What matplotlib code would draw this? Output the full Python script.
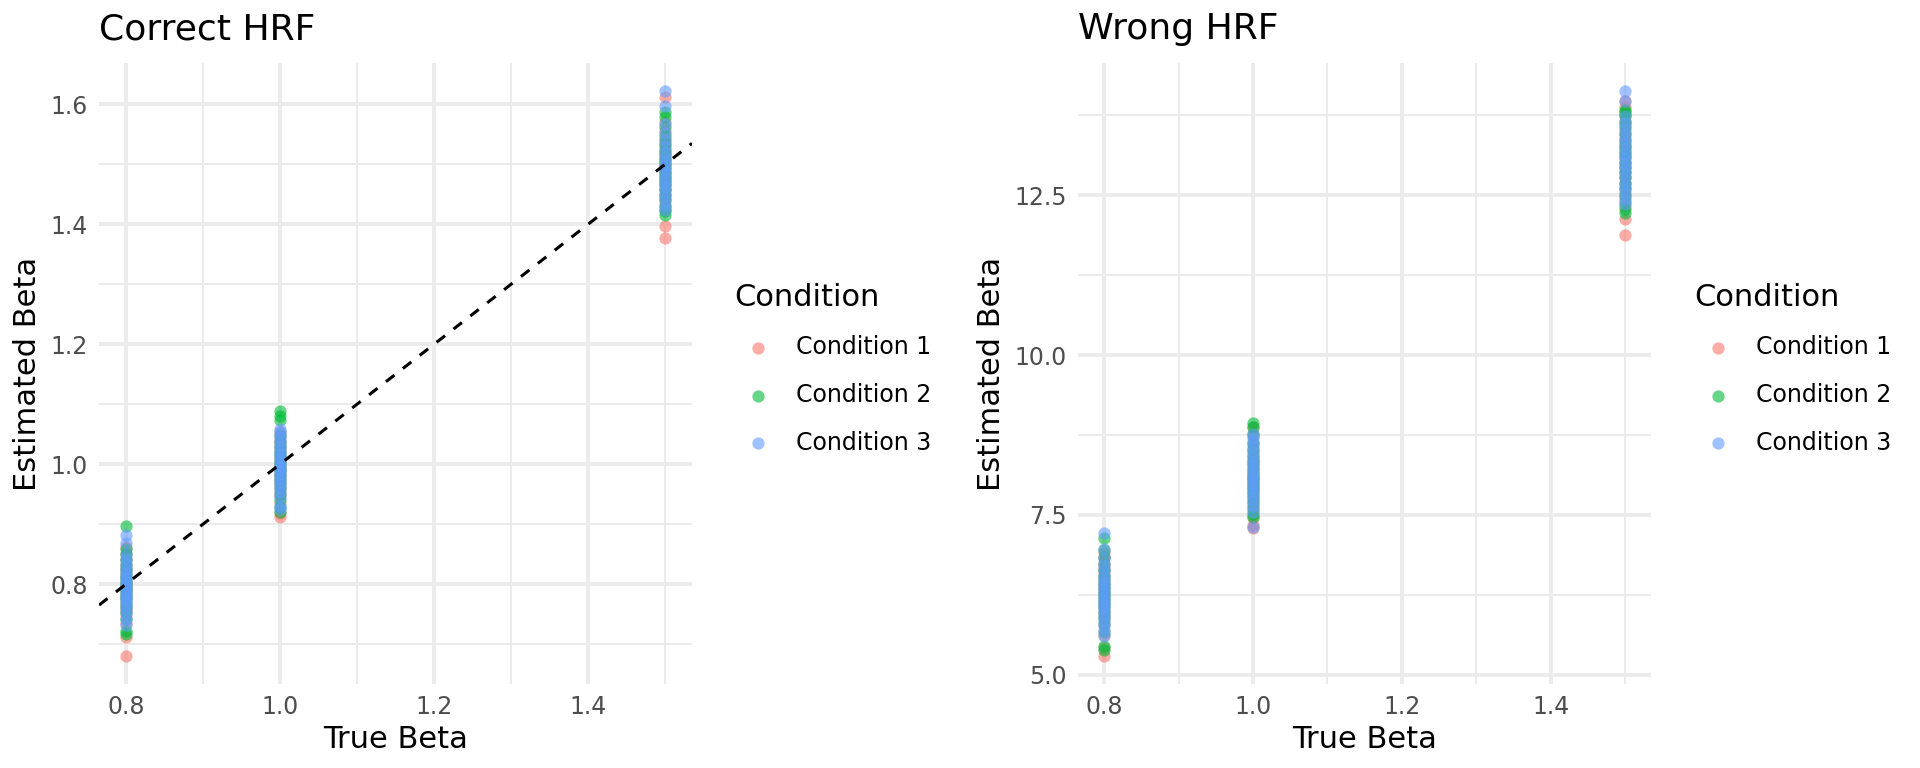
import matplotlib
matplotlib.use("Agg")
import matplotlib.pyplot as plt
from matplotlib.ticker import MultipleLocator, FormatStrFormatter

true_betas = [0.8, 1.0, 1.5]
conditions = ["Condition 1", "Condition 2", "Condition 3"]
colors = ["#F8766D", "#00BA38", "#619CFF"]

# correct HRF: estimated betas per condition, per true beta
correct_c1_08 = [0.680, 0.712, 0.735, 0.748, 0.756, 0.764, 0.771, 0.777, 0.783, 0.789,
                 0.794, 0.799, 0.805, 0.811, 0.818, 0.826, 0.834, 0.842, 0.851, 0.862]
correct_c2_08 = [0.716, 0.721, 0.742, 0.753, 0.762, 0.769, 0.776, 0.782, 0.788, 0.793,
                 0.798, 0.804, 0.810, 0.816, 0.823, 0.831, 0.840, 0.851, 0.858, 0.897]
correct_c3_08 = [0.731, 0.742, 0.752, 0.760, 0.767, 0.773, 0.779, 0.784, 0.790, 0.795,
                 0.800, 0.806, 0.812, 0.818, 0.825, 0.833, 0.842, 0.851, 0.868, 0.882]
correct_c1_10 = [0.912, 0.918, 0.935, 0.948, 0.957, 0.965, 0.972, 0.978, 0.984, 0.990,
                 0.996, 1.002, 1.008, 1.014, 1.020, 1.027, 1.034, 1.041, 1.047, 1.053]
correct_c2_10 = [0.920, 0.929, 0.941, 0.951, 0.960, 0.968, 0.975, 0.982, 0.988, 0.994,
                 1.000, 1.006, 1.013, 1.020, 1.028, 1.037, 1.048, 1.074, 1.081, 1.088]
correct_c3_10 = [0.926, 0.931, 0.945, 0.954, 0.962, 0.969, 0.976, 0.982, 0.988, 0.993,
                 0.999, 1.005, 1.011, 1.017, 1.024, 1.031, 1.039, 1.046, 1.053, 1.059]
correct_c1_15 = [1.378, 1.398, 1.425, 1.438, 1.448, 1.457, 1.465, 1.472, 1.479, 1.486,
                 1.493, 1.500, 1.507, 1.515, 1.523, 1.532, 1.543, 1.556, 1.571, 1.612]
correct_c2_15 = [1.416, 1.422, 1.431, 1.442, 1.451, 1.459, 1.467, 1.474, 1.481, 1.488,
                 1.495, 1.502, 1.509, 1.517, 1.526, 1.536, 1.548, 1.563, 1.579, 1.587]
correct_c3_15 = [1.424, 1.430, 1.440, 1.449, 1.457, 1.464, 1.471, 1.478, 1.485, 1.492,
                 1.499, 1.506, 1.513, 1.521, 1.530, 1.541, 1.553, 1.568, 1.597, 1.622]

# wrong HRF
wrong_c1_08 = [5.29, 5.41, 5.62, 5.78, 5.89, 5.97, 6.04, 6.11, 6.17, 6.23,
               6.29, 6.35, 6.41, 6.47, 6.53, 6.60, 6.67, 6.74, 6.82, 6.91]
wrong_c2_08 = [5.38, 5.44, 5.66, 5.80, 5.90, 5.98, 6.05, 6.12, 6.18, 6.24,
               6.30, 6.36, 6.42, 6.49, 6.56, 6.64, 6.73, 6.84, 6.95, 7.14]
wrong_c3_08 = [5.61, 5.69, 5.78, 5.86, 5.93, 5.99, 6.05, 6.11, 6.17, 6.23,
               6.29, 6.35, 6.41, 6.48, 6.55, 6.63, 6.72, 6.83, 6.96, 7.21]
wrong_c1_10 = [7.29, 7.34, 7.47, 7.58, 7.67, 7.75, 7.82, 7.89, 7.95, 8.01,
               8.07, 8.13, 8.19, 8.26, 8.33, 8.41, 8.50, 8.61, 8.74, 8.88]
wrong_c2_10 = [7.47, 7.52, 7.61, 7.70, 7.78, 7.85, 7.92, 7.98, 8.04, 8.10,
               8.16, 8.22, 8.29, 8.36, 8.44, 8.53, 8.63, 8.76, 8.87, 8.93]
wrong_c3_10 = [7.31, 7.55, 7.64, 7.72, 7.79, 7.86, 7.92, 7.98, 8.04, 8.10,
               8.16, 8.22, 8.28, 8.34, 8.41, 8.48, 8.56, 8.64, 8.71, 8.77]
wrong_c1_15 = [11.88, 12.13, 12.33, 12.47, 12.58, 12.68, 12.77, 12.85, 12.93, 13.01,
               13.09, 13.17, 13.25, 13.34, 13.43, 13.53, 13.64, 13.76, 13.88, 13.98]
wrong_c2_15 = [12.22, 12.28, 12.40, 12.51, 12.61, 12.70, 12.79, 12.87, 12.95, 13.03,
               13.11, 13.19, 13.28, 13.37, 13.47, 13.58, 13.67, 13.75, 13.80, 13.84]
wrong_c3_15 = [12.36, 12.44, 12.53, 12.62, 12.70, 12.78, 12.86, 12.94, 13.01, 13.08,
               13.15, 13.22, 13.30, 13.38, 13.46, 13.55, 13.64, 13.74, 13.97, 14.13]

correct = [[correct_c1_08, correct_c1_10, correct_c1_15],
           [correct_c2_08, correct_c2_10, correct_c2_15],
           [correct_c3_08, correct_c3_10, correct_c3_15]]
wrong = [[wrong_c1_08, wrong_c1_10, wrong_c1_15],
         [wrong_c2_08, wrong_c2_10, wrong_c2_15],
         [wrong_c3_08, wrong_c3_10, wrong_c3_15]]

plt.rcParams['font.family'] = ['DejaVu Sans']

fig = plt.figure(figsize=(19.2, 7.68), dpi=100)
ax1 = fig.add_axes([0.0516, 0.109, 0.3088, 0.809])
ax2 = fig.add_axes([0.5615, 0.109, 0.2985, 0.809])


def draw_panel(ax, data, title, ymaj, ymin, legend_x):
    for ci in range(3):
        for bi, tb in enumerate(true_betas):
            vals = data[ci][bi]
            ax.scatter([tb] * len(vals), vals, s=78, color=colors[ci], alpha=0.6,
                       linewidths=0, label=conditions[ci] if bi == 0 else None, zorder=3)
    ax.margins(x=0.05, y=0.05)
    ax.xaxis.set_major_locator(MultipleLocator(0.2))
    ax.xaxis.set_minor_locator(MultipleLocator(0.1))
    ax.yaxis.set_major_locator(MultipleLocator(ymaj))
    ax.yaxis.set_minor_locator(MultipleLocator(ymin))
    ax.xaxis.set_major_formatter(FormatStrFormatter('%.1f'))
    ax.yaxis.set_major_formatter(FormatStrFormatter('%.1f'))
    ax.grid(which='major', color='#EBEBEB', linewidth=2.8, zorder=0)
    ax.grid(which='minor', color='#EBEBEB', linewidth=1.4, zorder=0)
    ax.set_axisbelow(True)
    for sp in ax.spines.values():
        sp.set_visible(False)
    ax.tick_params(which='both', length=0, labelsize=17, labelcolor='#4D4D4D', pad=8)
    ax.set_xlabel('True Beta', fontsize=22, labelpad=4)
    ax.set_ylabel('Estimated Beta', fontsize=22, labelpad=6)
    ax.set_title(title, loc='left', fontsize=26, pad=17)
    leg = ax.legend(title='Condition', loc='center left', bbox_to_anchor=(legend_x, 0.52),
                    bbox_transform=fig.transFigure, frameon=False, fontsize=17,
                    title_fontsize=22, alignment='left', handletextpad=0.6,
                    labelspacing=1.0, markerscale=1.0, borderaxespad=0)
    for h in leg.legend_handles:
        h.set_alpha(0.6)


draw_panel(ax1, correct, 'Correct HRF', 0.2, 0.1, 0.3776)
ax1.axline((1.0, 1.0), slope=1, color='black', linestyle=(0, (3.5, 3.5)),
           linewidth=2.2, zorder=4)

draw_panel(ax2, wrong, 'Wrong HRF', 2.5, 1.25, 0.8777)

fig.savefig('out.png', dpi=100, facecolor='white')
